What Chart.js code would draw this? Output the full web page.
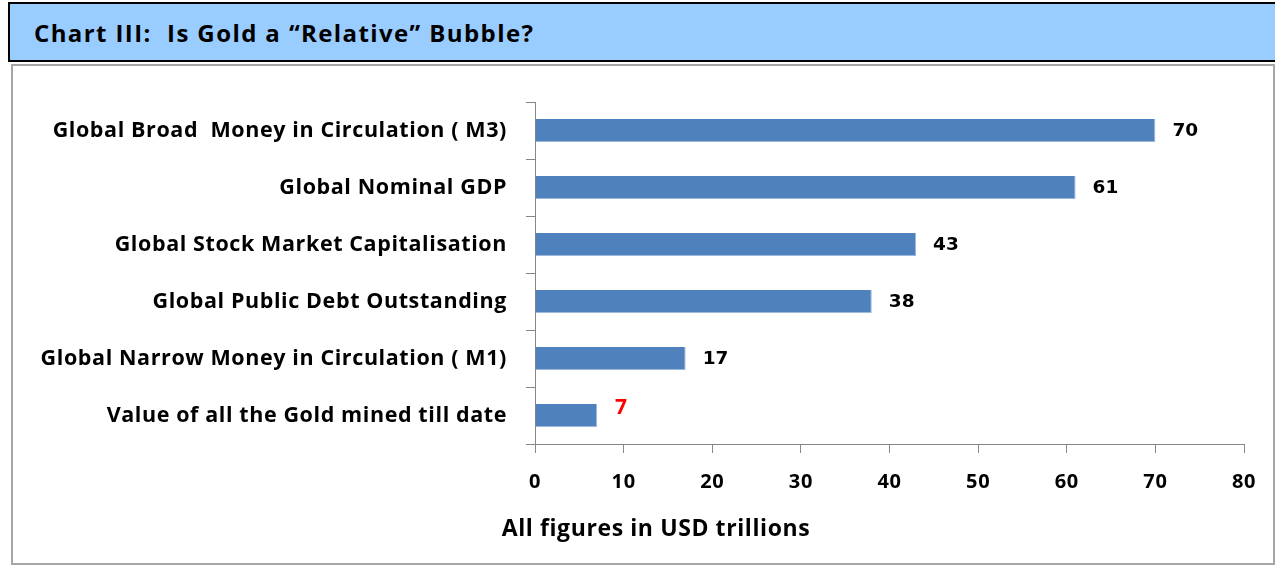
<!DOCTYPE html>
<html>
<head>
<meta charset="utf-8">
<script src="https://cdn.jsdelivr.net/npm/chart.js@4/dist/chart.umd.min.js"></script>
<style>
  html, body { margin: 0; padding: 0; background: #fff; }
  body { width: 1275px; height: 565px; position: relative; overflow: hidden; }
  #band { position: absolute; left: 8px; top: 2px; width: 1275px; height: 56px;
          background: #99CCFF; border: 2px solid #000; border-right: none; }
  #band span { position: absolute; left: 24px; top: 12px; font-family: "Open Sans", sans-serif;
               font-weight: 700; font-size: 24px; letter-spacing: 1.4px; color: #000; white-space: pre; }
  #frame { position: absolute; left: 11px; top: 64px; width: 1260px; height: 497px;
           border: 2px solid #A6A6A6; }
  #c { position: absolute; left: 0; top: 0; }
</style>
</head>
<body>
<div id="band"><span>Chart III:  Is Gold a “Relative” Bubble?</span></div>
<div id="frame"></div>
<canvas id="c" width="1275" height="565"></canvas>
<script>
const categories = [
  "Global Broad  Money in Circulation ( M3)",
  "Global Nominal GDP",
  "Global Stock Market Capitalisation",
  "Global Public Debt Outstanding",
  "Global Narrow Money in Circulation ( M1)",
  "Value of all the Gold mined till date"
];
const values = [70, 61, 43, 38, 17, 7];
const xTicks = [0, 10, 20, 30, 40, 50, 60, 70, 80];
const xAxisTitle = "All figures in USD trillions";
const highlightCategory = "Value of all the Gold mined till date";

const labelFont = '"Open Sans", sans-serif';

const spacing = {
  id: 'spacing',
  beforeDraw(chart) { chart.ctx.letterSpacing = '0.6px'; },
  afterDraw(chart) { chart.ctx.letterSpacing = '0px'; }
};

const valueLabels = {
  id: 'valueLabels',
  afterDatasetsDraw(chart) {
    const ctx = chart.ctx;
    const meta = chart.getDatasetMeta(0);
    ctx.save();
    ctx.letterSpacing = '0px';
    ctx.textBaseline = 'middle';
    ctx.textAlign = 'left';
    meta.data.forEach((bar, i) => {
      const isGold = categories[i] === highlightCategory;
      if (isGold) {
        ctx.fillStyle = '#FF0000';
        ctx.font = '700 21px ' + labelFont;
        ctx.fillText(String(values[i]), bar.x + 18, bar.y - 7);
      } else {
        ctx.fillStyle = '#000';
        ctx.font = '700 18.5px "DejaVu Sans", sans-serif';
        ctx.fillText(String(values[i]), bar.x + 17, bar.y + 1);
      }
    });
    ctx.restore();
  }
};

const axisTitle = {
  id: 'axisTitle',
  afterDraw(chart) {
    const ctx = chart.ctx;
    ctx.save();
    ctx.letterSpacing = '0.6px';
    ctx.fillStyle = '#000';
    ctx.font = '700 23px ' + labelFont;
    ctx.textAlign = 'center';
    ctx.textBaseline = 'middle';
    ctx.fillText(xAxisTitle, 656, 529);
    ctx.restore();
  }
};

new Chart(document.getElementById('c'), {
  type: 'bar',
  data: {
    labels: categories,
    datasets: [{
      data: values,
      backgroundColor: '#4F81BD',
      borderColor: '#9DB8DC',
      borderWidth: { top: 0, left: 0, right: 1, bottom: 1 },
      barPercentage: 0.5,
      categoryPercentage: 0.8
    }]
  },
  options: {
    indexAxis: 'y',
    responsive: false,
    animation: false,
    events: [],
    layout: { padding: { left: 0, right: 31, top: 102, bottom: 0 } },
    plugins: { legend: { display: false }, tooltip: { enabled: false }, title: { display: false } },
    scales: {
      x: {
        type: 'linear',
        min: xTicks[0],
        max: xTicks[xTicks.length - 1],
        afterBuildTicks(scale) { scale.ticks = xTicks.map(v => ({ value: v })); },
        afterFit(scale) { scale.height = 121; },
        border: { display: true, color: '#868686', width: 1 },
        grid: { drawOnChartArea: false, drawTicks: true, tickLength: 9, color: '#868686' },
        ticks: { color: '#000', font: { family: labelFont, size: 20, weight: '700' }, padding: 17, maxRotation: 0 }
      },
      y: {
        afterFit(scale) { scale.width = 535; },
        border: { display: true, color: '#868686', width: 1 },
        grid: { drawOnChartArea: false, drawTicks: true, tickLength: 9, color: '#868686', offset: true },
        ticks: { color: '#000', font: { family: labelFont, size: 21.5, weight: '700' }, padding: 19 }
      }
    }
  },
  plugins: [spacing, valueLabels, axisTitle]
});
</script>
</body>
</html>
